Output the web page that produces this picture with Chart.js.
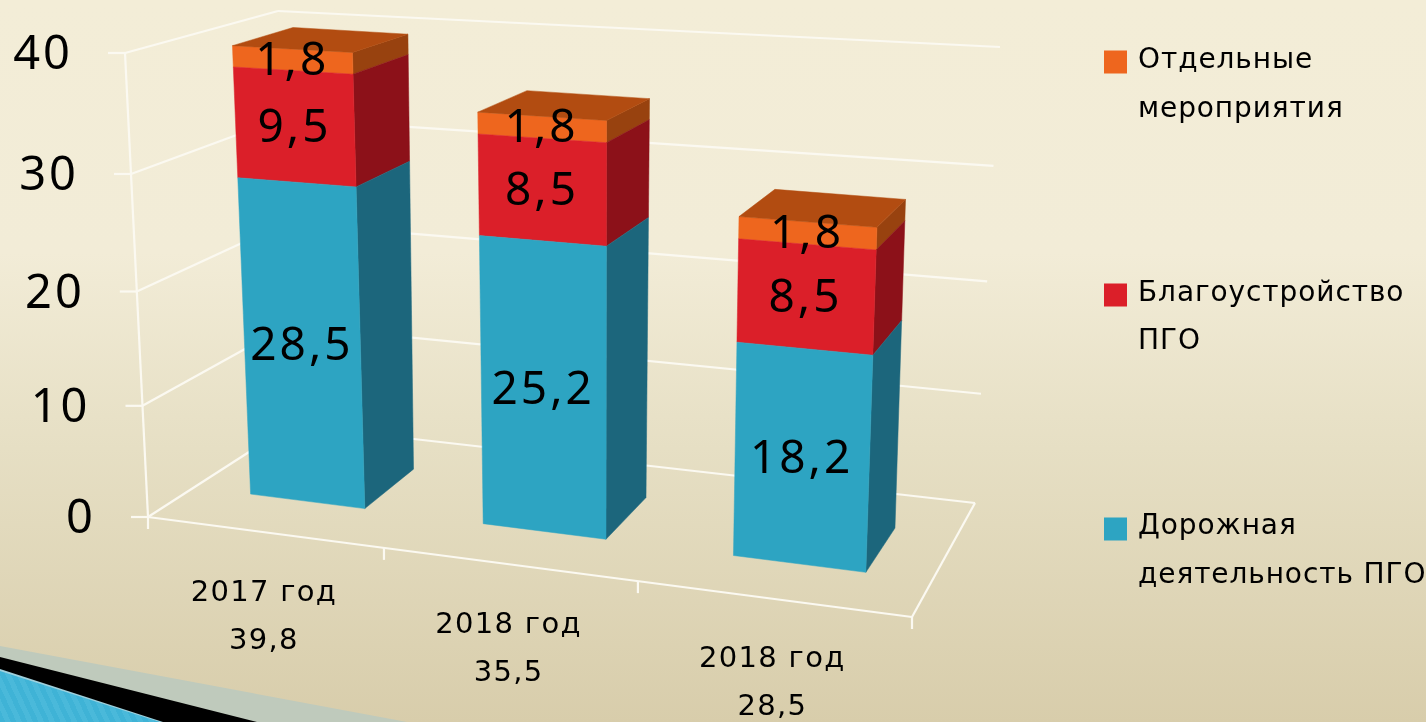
<!DOCTYPE html>
<html><head><meta charset="utf-8">
<style>
html,body{margin:0;padding:0;width:1426px;height:722px;overflow:hidden}
body{position:relative;background:linear-gradient(180deg,#f3edd7 0%,#f2ecd7 35%,#e6dfc4 62%,#d8cdab 100%)}
.deco{position:absolute;left:0;top:0;width:1426px;height:722px}
#d1{background:#bfcabc;clip-path:polygon(0 646px,407px 722px,0 722px)}
#d2{background:#000;clip-path:polygon(0 657px,257px 722px,0 722px)}
#d4{background:#9fd0dc;clip-path:polygon(0 669px,163px 722px,0 722px)}
#d3{background:repeating-linear-gradient(65deg,#3fb3d6 0 5px,#4ab9da 5px 10px);clip-path:polygon(0 671px,160px 722px,0 722px)}
canvas{position:absolute;left:0;top:0}
</style>
<script src="https://cdn.jsdelivr.net/npm/chart.js@4/dist/chart.umd.min.js"></script>
</head><body>
<div class="deco" id="d1"></div><div class="deco" id="d2"></div><div class="deco" id="d4"></div><div class="deco" id="d3"></div>
<canvas id="c" width="1426" height="722"></canvas>
<script>
const categories = ["2017 год", "2018 год", "2018 год"];
const totals = ["39,8", "35,5", "28,5"];
const road = [28.5, 25.2, 18.2];
const improvement = [9.5, 8.5, 8.5];
const separate = [1.8, 1.8, 1.8];
const yTicks = [0, 10, 20, 30, 40];
const seriesNames = ["Дорожная деятельность ПГО", "Благоустройство ПГО", "Отдельные мероприятия"];
const legendLines = [["Дорожная", "деятельность ПГО"], ["Благоустройство", "ПГО"], ["Отдельные", "мероприятия"]];
const frontColors = ["#2da4c2", "#db1f29", "#ee661e"];
const sideColors = ["#1c667c", "#8c1119", "#98420f"];
const topColor = "#b24c11";

// Perspective planes of the 3D view: corners for (u,v) = (0,0),(1,0),(1,1),(0,1)
function plane(q){
  const [[x0,y0],[x1,y1],[x2,y2],[x3,y3]] = q;
  const dx1=x1-x2,dx2=x3-x2,sx=x0-x1+x2-x3,dy1=y1-y2,dy2=y3-y2,sy=y0-y1+y2-y3;
  const den=dx1*dy2-dx2*dy1, g=(sx*dy2-dx2*sy)/den, h=(dx1*sy-sx*dy1)/den;
  const a=x1-x0+g*x1,b=x3-x0+h*x3,d=y1-y0+g*y1,e=y3-y0+h*y3;
  return (u,v)=>{const w=g*u+h*v+1;return [(a*u+b*v+x0)/w,(d*u+e*v+y0)/w];};
}
const frontPlane = plane([[195,487],[934,581],[954,84],[174,40]]);
const backPlane  = plane([[249,449],[960,536],[978,65],[237,22]]);
const leftWall   = plane([[148,517],[291,425],[278,11],[125,53]]);
const backWall   = plane([[291,425],[975,503],[1000,47],[278,11]]);
const floorPlane = plane([[148,517],[912,617],[975,503],[291,425]]);

function poly(ctx, pts, color){
  ctx.beginPath();
  pts.forEach((p,i)=> i?ctx.lineTo(p[0],p[1]):ctx.moveTo(p[0],p[1]));
  ctx.closePath();
  ctx.fillStyle=color; ctx.fill();
  ctx.strokeStyle=color; ctx.lineWidth=0.5; ctx.stroke();
}
function seg(ctx,a,b){ctx.beginPath();ctx.moveTo(a[0],a[1]);ctx.lineTo(b[0],b[1]);ctx.stroke();}
function norm(chart,px,py){
  const A=chart.chartArea;
  return [(px-A.left)/(A.right-A.left),(A.bottom-py)/(A.bottom-A.top)];
}
function drawText(ctx,text,x,y,font,spacing,align){
  ctx.font=font; ctx.letterSpacing=spacing; ctx.textAlign=align; ctx.textBaseline="middle";
  ctx.fillStyle="#000"; ctx.fillText(text,x,y);
}

const view3d = {
  id:"view3d",
  beforeDatasetsDraw(chart){
    const ctx=chart.ctx, yS=chart.scales.y, xS=chart.scales.x;
    ctx.save();
    ctx.strokeStyle="#fbf9f1"; ctx.lineWidth=2.2;
    const tOf=v=>norm(chart,0,yS.getPixelForValue(v))[1];
    yS.ticks.forEach(tk=>{
      const t=tOf(tk.value), a=leftWall(0,t), b=leftWall(1,t), c=backWall(1,t);
      seg(ctx,[a[0]-17,a[1]],a);
      if(tk.value>0){seg(ctx,a,b);seg(ctx,b,c);}
      drawText(ctx,String(tk.value),a[0]-52,a[1]+3,"47px 'Noto Sans'","3px","right");
    });
    seg(ctx,leftWall(0,0),leftWall(0,1));
    [[0,0,1,0],[0,0,0,1],[1,0,1,1],[0,1,1,1]].forEach(l=>seg(ctx,floorPlane(l[0],l[1]),floorPlane(l[2],l[3])));
    for(let i=-0.5;i<categories.length;i++){
      const s=norm(chart,xS.getPixelForValue(i),0)[0], p=floorPlane(s,0);
      seg(ctx,p,[p[0],p[1]+12]);
    }
    xS.getLabels().forEach((lab,i)=>{
      const s=norm(chart,xS.getPixelForValue(i),0)[0], p=floorPlane(s,0);
      lab.forEach((ln,k)=>drawText(ctx,ln,p[0],p[1]+61+k*48,"29px 'DejaVu Sans'","1.3px","center"));
    });
    ctx.restore();
    chart.data.datasets.forEach((ds,di)=>{
      chart.getDatasetMeta(di).data.forEach(el=>{
        el.draw=function(c){
          const l=norm(chart,el.x-el.width/2,el.y), r=norm(chart,el.x+el.width/2,el.base);
          const tl=frontPlane(l[0],l[1]), tr=frontPlane(r[0],l[1]), br=frontPlane(r[0],r[1]), bl=frontPlane(l[0],r[1]);
          const btr=backPlane(r[0],l[1]), bbr=backPlane(r[0],r[1]), btl=backPlane(l[0],l[1]);
          c.save();
          poly(c,[br,tr,btr,bbr],sideColors[di]);
          poly(c,[bl,br,tr,tl],frontColors[di]);
          if(di===chart.data.datasets.length-1) poly(c,[tl,tr,btr,btl],topColor);
          c.restore();
        };
      });
    });
  },
  afterDatasetsDraw(chart){
    const ctx=chart.ctx;
    ctx.save();
    chart.data.datasets.forEach((ds,di)=>{
      chart.getDatasetMeta(di).data.forEach((el,i)=>{
        const n=norm(chart,el.x,(el.y+el.base)/2), p=frontPlane(n[0],n[1]);
        drawText(ctx,String(ds.data[i]).replace(".",","),p[0],p[1]+2,"46px 'Noto Sans'","3px","center");
      });
    });
    // legend
    const ys=[[527,576,529],[294,342,295],[61,110,62]];
    legendLines.forEach((lines,k)=>{
      ctx.fillStyle=frontColors[k];
      ctx.fillRect(1104,ys[k][2]-11.5,23,23);
      lines.forEach((ln,j)=>drawText(ctx,ln,1138,ys[k][j],"28px 'DejaVu Sans'","0.9px","left"));
    });
    ctx.restore();
  }
};

new Chart(document.getElementById("c"),{
  type:"bar",
  data:{
    labels:categories.map((c,i)=>[c,totals[i]]),
    datasets:[road,improvement,separate].map((d,i)=>({
      label:seriesNames[i], data:d, backgroundColor:frontColors[i],
      stack:"s", clip:false, barPercentage:0.5, categoryPercentage:1
    }))
  },
  options:{
    responsive:false, animation:false,
    layout:{padding:0},
    plugins:{legend:{display:false},tooltip:{enabled:false}},
    scales:{
      x:{stacked:true,grid:{display:false},border:{display:false},ticks:{display:false}},
      y:{stacked:true,min:0,max:40,afterBuildTicks(s){s.ticks=yTicks.map(v=>({value:v}));},
         grid:{display:false},border:{display:false},ticks:{display:false}}
    }
  },
  plugins:[view3d]
});
</script>
</body></html>
